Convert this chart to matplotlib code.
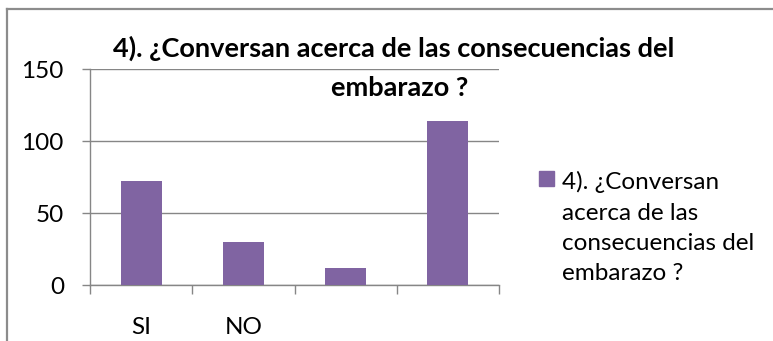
import matplotlib
matplotlib.use("Agg")
import matplotlib.pyplot as plt
from matplotlib.patches import Rectangle
from matplotlib.lines import Line2D

# Survey answers
categories = ["SI", "NO", "", ""]
counts = [72, 30, 12, 114]
series_name = "4). ¿Conversan acerca de las consecuencias del embarazo ?"
legend_lines = ["4). ¿Conversan", "acerca de las", "consecuencias del", "embarazo ?"]
title_lines = ["4). ¿Conversan acerca de las consecuencias del", "embarazo ?"]
y_ticks = [0, 50, 100, 150]

W, H = 773, 341
BAR = "#8064A2"
GRID = "#868686"
FONT = "Lato"
FS = 17.5
FS_TITLE = 19.5

plt.rcParams["font.family"] = [FONT, "DejaVu Sans"]

fig = plt.figure(figsize=(W / 100, H / 100), dpi=100)
fig.patch.set_facecolor("white")


def fx(px):
    return px / W


def fy(py):
    return 1 - py / H


ax = fig.add_axes([fx(90), fy(285), fx(499) - fx(90), fy(69) - fy(285)])

x = list(range(len(categories)))
ax.bar(x, counts, width=0.4, color=BAR, zorder=3)

ax.set_xlim(-0.5, len(categories) - 0.5)
ax.set_ylim(0, 150)
ax.set_yticks(y_ticks)
ax.yaxis.grid(True, color=GRID, linewidth=1.0, zorder=0)
ax.set_axisbelow(True)

# category boundaries carry the tick marks, labels sit at the centres
ax.set_xticks([i - 0.5 for i in range(len(categories) + 1)])
ax.set_xticklabels([])
ax.set_xticks(x, minor=True)
ax.set_xticklabels(categories, minor=True)
ax.tick_params(axis="x", which="major", length=6.5, width=1.0, color=GRID, direction="out")
ax.tick_params(axis="x", which="minor", length=0, pad=23, labelsize=FS)
ax.tick_params(axis="y", which="major", length=5.8, width=1.0, color=GRID, pad=13, labelsize=FS)

for side in ("top", "right"):
    ax.spines[side].set_visible(False)
for side in ("left", "bottom"):
    ax.spines[side].set_color(GRID)
    ax.spines[side].set_linewidth(1.0)

# title, two centred lines
fig.text(fx(394), fy(48), title_lines[0], ha="center", va="center",
         fontsize=FS_TITLE, fontweight="bold", color="black")
fig.text(fx(400), fy(88), title_lines[1], ha="center", va="center",
         fontsize=FS_TITLE, fontweight="bold", color="black")

# legend entry
fig.patches.append(Rectangle((fx(539), fy(186)), fx(15), 15 / H,
                             transform=fig.transFigure, color=BAR))
line_y = [182, 213, 243, 273]
for txt, yy in zip(legend_lines, line_y):
    fig.text(fx(562), fy(yy), txt, ha="left", va="center", fontsize=FS, color="black")

# chart frame
frame = dict(color="#8c8c8c", linewidth=1.6, transform=fig.transFigure)
fig.lines.append(Line2D([fx(7.5), fx(7.5)], [fy(8.5), 0], **frame))
fig.lines.append(Line2D([fx(7.5), 1], [fy(8.5), fy(8.5)], **frame))

fig.savefig("out.png", dpi=100)
